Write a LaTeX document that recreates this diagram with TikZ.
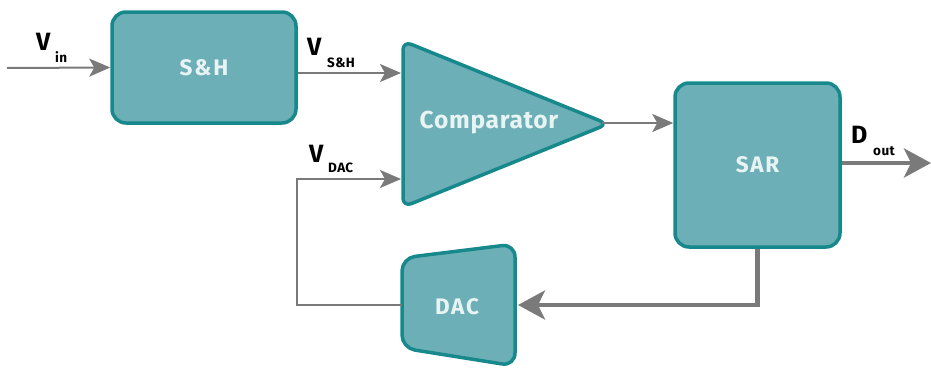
\documentclass[tikz,border=0pt]{standalone}
\usepackage{fontspec}
\setmainfont{Fira Sans}
\newfontfamily\medfont{Fira Sans}[LetterSpace=8]
\newfontfamily\labfont{Fira Sans}[LetterSpace=3]
\usetikzlibrary{arrows.meta,calc}
\definecolor{boxfill}{HTML}{6DAFB6}
\definecolor{boxline}{HTML}{17898C}
\definecolor{boxtext}{HTML}{E8F4F4}
\definecolor{wire}{HTML}{7A7A7A}
\tikzset{
  blockshape/.style={draw=boxline, fill=boxfill, line width=3.5pt, line join=round},
  block/.style={blockshape, rounded corners=14pt, inner sep=0pt},
  blocktext/.style={text=boxtext, font=\medfont\bfseries\fontsize{22.5}{26}\selectfont, inner sep=0pt},
  thinwire/.style={draw=wire, line width=2pt, -{Stealth[length=21pt,width=18pt,inset=5pt]}},
  thinline/.style={draw=wire, line width=2pt},
  thickwire/.style={draw=wire, line width=4.5pt, -{Stealth[length=27pt,width=29pt,inset=7pt]}},
  biglabel/.style={anchor=base west, inner sep=0pt, font=\labfont\bfseries\fontsize{25}{28}\selectfont},
  sublabel/.style={anchor=base west, inner sep=0pt, font=\labfont\bfseries\fontsize{13.5}{16}\selectfont},
}
\begin{document}
\begin{tikzpicture}[x=1pt,y=-1pt]
\useasboundingbox[fill=white] (0,0) rectangle (931,367);

% blocks
\node[block, blocktext, minimum width=184pt, minimum height=111pt] (sh) at (204,67.5) {S\&H};
\node[block, blocktext, minimum width=165pt, minimum height=164pt] (sar) at (757.5,165) {SAR};

\draw[blockshape, rounded corners=9pt] (403,41) -- (608,124) -- (403,207) -- cycle;
\node[blocktext, font=\labfont\bfseries\fontsize{24.5}{28}\selectfont] (cmp) at (489,123) {Comparator};

\draw[blockshape, rounded corners=13pt] (402,258) -- (515,244) -- (515,366) -- (402,348) -- cycle;
\node[blocktext] (dac) at (457,307) {DAC};

% named connector points
\coordinate (vinstart) at (7,68);
\coordinate (cin1) at (401,73);
\coordinate (cin2) at (401,179);
\coordinate (cout) at (602,123);
\coordinate (doutend) at (931,163);
\coordinate (dacr) at (518,305);
\coordinate (dacl) at (402,305);
\coordinate (fbk) at (297,305);

% connectors
\draw[thinwire] (vinstart) -- (sh.west);
\draw[thinwire] (sh.east |- cin1) -- (cin1);
\draw[thinwire] (cout) -- (sar.west |- cout);
\draw[thickwire] (sar.east |- doutend) -- (doutend);
\draw[thickwire] (sar.south) |- (dacr);
\draw[thinwire] (dacl) -- (fbk) |- (cin2);

% labels
\node[biglabel] (vinv) at (36,50) {V};
\node[sublabel] (vins) at (55,62) {in};
\node[biglabel] (vshv) at (307,55) {V};
\node[sublabel] (vshs) at (327,67) {S\&H};
\node[biglabel] (vdacv) at (309,162) {V};
\node[sublabel] (vdacs) at (328,172) {DAC};
\node[biglabel] (doutv) at (851,143) {D};
\node[sublabel] (douts) at (873,155) {out};
\end{tikzpicture}
\end{document}
